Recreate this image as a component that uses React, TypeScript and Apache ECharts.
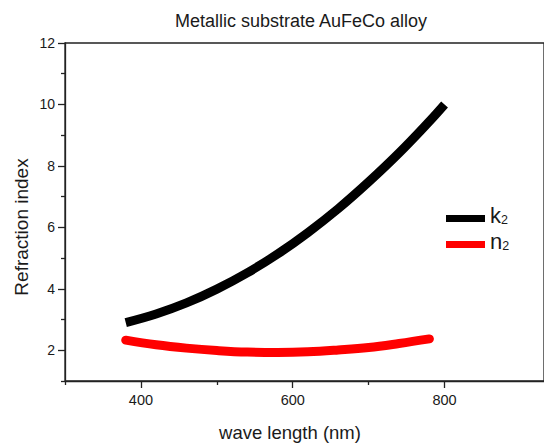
import React, { useEffect, useRef } from "react";
import * as echarts from "echarts";

const wavelengthK = [380, 420, 460, 500, 540, 580, 620, 660, 700, 740, 780, 800];
const k2Values = [2.9, 3.18, 3.54, 3.99, 4.52, 5.13, 5.83, 6.61, 7.48, 8.42, 9.45, 10.0];
const wavelengthN = [380, 420, 460, 500, 540, 580, 620, 660, 700, 740, 780];
const n2Values = [2.33, 2.18, 2.07, 1.99, 1.94, 1.93, 1.95, 2.01, 2.09, 2.22, 2.37];
const xMajorTicks = [400, 600, 800];
const xMinorTicks = [300, 500, 700];
const yMajorTicks = [2, 4, 6, 8, 10, 12];
const yMinorTicks = [1, 3, 5, 7, 9, 11];
const titleText = "Metallic substrate AuFeCo alloy";
const xName = "wave length (nm)";
const yName = "Refraction index";

const FONT = "Liberation Sans, Arial, sans-serif";
const AXIS_COLOR = "#222";

export default function App() {
  const ref = useRef<HTMLDivElement>(null);
  useEffect(() => {
    if (!ref.current) return;
    const chart = echarts.init(ref.current, undefined, { renderer: "svg" });
    const xMin = 300;
    const xMax = 931;
    chart.setOption({
      animation: false,
      backgroundColor: "#fff",
      title: {
        text: titleText,
        left: 296,
        textAlign: "center",
        top: 7,
        textStyle: { fontFamily: FONT, fontSize: 18, fontWeight: "normal", color: "#1a1a1a" },
      },
      grid: {
        left: 65,
        right: -2,
        top: 43,
        bottom: 63,
        show: true,
        borderColor: AXIS_COLOR,
        borderWidth: 1.3,
        backgroundColor: "transparent",
      },
      legend: {
        orient: "vertical",
        left: 446,
        top: 204,
        padding: 0,
        itemGap: 4,
        itemWidth: 39,
        itemHeight: 7,
        icon: "rect",
        data: ["k2", "n2"],
        formatter: (name: string) => `{a|${name.slice(0, 1)}}{b|${name.slice(1)}}`,
        textStyle: {
          padding: [0, 0, 7, 0],
          rich: {
            a: { fontFamily: FONT, fontSize: 22, lineHeight: 22, color: "#1a1a1a" },
            b: { fontFamily: FONT, fontSize: 12.5, lineHeight: 16, verticalAlign: "bottom", color: "#1a1a1a" },
          },
        },
      },
      xAxis: [
        {
          type: "value",
          min: xMin,
          max: xMax,
          interval: 100,
          axisLine: { show: true, lineStyle: { color: AXIS_COLOR, width: 1.3 } },
          axisTick: { show: true, length: 7, customValues: xMajorTicks, lineStyle: { color: AXIS_COLOR, width: 1.3 } },
          axisLabel: { show: true, customValues: xMajorTicks, margin: 11, fontFamily: FONT, fontSize: 14.5, color: "#1a1a1a" },
          splitLine: { show: false },
        },
        {
          type: "value",
          position: "bottom",
          min: xMin,
          max: xMax,
          interval: 100,
          axisLine: { show: false },
          axisTick: { show: true, length: 4, customValues: xMinorTicks, lineStyle: { color: AXIS_COLOR, width: 1.3 } },
          axisLabel: { show: false },
          splitLine: { show: false },
        },
      ],
      yAxis: [
        {
          type: "value",
          min: 1,
          max: 12,
          interval: 1,
          axisLine: { show: true, lineStyle: { color: AXIS_COLOR, width: 1.3 } },
          axisTick: { show: true, length: 7, customValues: yMajorTicks, lineStyle: { color: AXIS_COLOR, width: 1.3 } },
          axisLabel: { show: true, customValues: yMajorTicks, margin: 10, fontFamily: FONT, fontSize: 14, color: "#1a1a1a" },
          splitLine: { show: false },
        },
        {
          type: "value",
          position: "left",
          min: 1,
          max: 12,
          interval: 1,
          axisLine: { show: false },
          axisTick: { show: true, length: 4, customValues: yMinorTicks, lineStyle: { color: AXIS_COLOR, width: 1.3 } },
          axisLabel: { show: false },
          splitLine: { show: false },
        },
      ],
      graphic: [
        {
          type: "text",
          x: 290,
          y: 432,
          style: {
            text: xName,
            fontFamily: FONT,
            fontSize: 18.5,
            fill: "#1a1a1a",
            align: "center",
            verticalAlign: "middle",
          },
        },
        {
          type: "text",
          x: 21,
          y: 227,
          rotation: Math.PI / 2,
          style: {
            text: yName,
            fontFamily: FONT,
            fontSize: 19,
            fill: "#1a1a1a",
            align: "center",
            verticalAlign: "middle",
          },
        },
      ],
      series: [
        {
          name: "k2",
          type: "line",
          xAxisIndex: 0,
          yAxisIndex: 0,
          data: wavelengthK.map((x, i) => [x, k2Values[i]]),
          smooth: 0.4,
          showSymbol: false,
          symbol: "none",
          color: "#000",
          lineStyle: { color: "#000", width: 9, cap: "butt" },
        },
        {
          name: "n2",
          type: "line",
          xAxisIndex: 0,
          yAxisIndex: 0,
          data: wavelengthN.map((x, i) => [x, n2Values[i]]),
          smooth: 0.4,
          showSymbol: false,
          symbol: "none",
          color: "#ff0000",
          lineStyle: { color: "#ff0000", width: 9, cap: "round" },
        },
      ],
    });
    return () => chart.dispose();
  }, []);
  return <div ref={ref} style={{ width: 544, height: 444, position: "absolute", left: 0, top: 0 }} />;
}
